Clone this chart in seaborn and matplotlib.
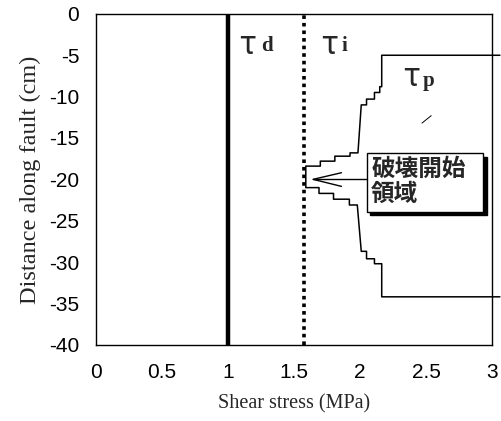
import matplotlib
matplotlib.use("Agg")
import matplotlib.pyplot as plt
from matplotlib import font_manager
from matplotlib.patches import Rectangle
import seaborn as sns
import pandas as pd

# Stress levels (MPa)
tau_d = 1.0          # dynamic friction level
tau_i = 1.58         # initial shear stress

# Peak-strength boundary: step profile along the fault
tau_p_x = [3.06, 2.165, 2.165, 2.15, 2.15, 2.11, 2.11, 2.05, 2.05, 2.01, 1.985,
           1.925, 1.925, 1.81, 1.81, 1.70, 1.70, 1.59, 1.59, 1.69, 1.69, 1.80,
           1.80, 1.92, 1.92, 1.98, 2.01, 2.05, 2.05, 2.11, 2.11, 2.165, 2.165, 3.06]
tau_p_y = [-5.0, -5.0, -8.8, -8.8, -9.5, -9.5, -10.3, -10.3, -11.0, -11.0, -16.8,
           -16.8, -17.2, -17.2, -17.8, -17.8, -18.4, -18.4, -21.0, -21.0, -21.7, -21.7,
           -22.4, -22.4, -23.1, -23.1, -28.7, -28.7, -29.6, -29.6, -30.2, -30.2, -34.2, -34.2]

x_ticks = [0, 0.5, 1, 1.5, 2, 2.5, 3]
x_tick_labels = ["0", "0.5", "1", "1.5", "2", "2.5", "3"]
y_ticks = [0, -5, -10, -15, -20, -25, -30, -35, -40]

sns.set_theme(style="white")
names = {f.name for f in font_manager.fontManager.ttflist}
tick_family = "Liberation Sans Narrow" if "Liberation Sans Narrow" in names else "Liberation Sans"
plt.rcParams["font.family"] = [tick_family, "DejaVu Sans"]
plt.rcParams["axes.unicode_minus"] = False

fig = plt.figure(figsize=(5.02, 4.21), dpi=100)
ax = fig.add_axes([0.191, 0.181, 0.789, 0.786])

# tau_d and tau_i levels
ax.axvline(tau_d, color="black", lw=3.2, zorder=3)
ax.axvline(tau_i, color="black", lw=2.6, ls=(0, (1, 1.1)), zorder=3)

# peak strength profile
prof = pd.DataFrame({"stress": tau_p_x, "dist": tau_p_y})
sns.lineplot(data=prof, x="stress", y="dist", sort=False, estimator=None,
             color="black", lw=1.1, ax=ax, clip_on=False, zorder=4)

# arrow pointing at the nucleation zone
ax.plot([1.645, 2.05], [-20.0, -20.0], color="black", lw=1.0, zorder=4)
ax.plot([1.86, 1.645, 1.86], [-19.2, -20.0, -20.85], color="black", lw=1.0, zorder=4)
ax.plot([2.47, 2.54], [-13.2, -12.3], color="black", lw=0.7, zorder=4)

# boxed label with drop shadow
bx0, bx1, by0, by1 = 2.05, 2.93, -23.9, -16.8
ax.add_patch(Rectangle((bx0 + 0.03, by0 - 0.45), bx1 - bx0, by1 - by0,
                       facecolor="black", edgecolor="black", zorder=5))
ax.add_patch(Rectangle((bx0, by0), bx1 - bx0, by1 - by0,
                       facecolor="white", edgecolor="black", lw=1.0, zorder=6))
ax.text(2.085, -20.3, "破壊開始\n領域", fontsize=17, fontweight="bold",
        family=["Noto Sans CJK JP", "DejaVu Sans"], va="center", ha="left",
        linespacing=1.05, zorder=7)

# stress-level labels
serif = ["Liberation Serif", "DejaVu Serif"]
for xt, yt, xs, ys, sub in [(1.15, -3.75, 1.295, -3.85, "d"),
                            (1.765, -3.75, 1.88, -3.85, "i"),
                            (2.39, -7.6, 2.52, -8.1, "p")]:
    ax.text(xt, yt, "τ", fontsize=23, family=["Noto Sans CJK JP", "DejaVu Sans"],
            ha="center", va="center")
    ax.text(xs, ys, sub, fontsize=15, fontweight="bold",
            family=serif, ha="center", va="center")

ax.set_xlim(0, 3)
ax.set_ylim(-40, 0)
ax.set_xticks(x_ticks)
ax.set_xticklabels(x_tick_labels)
ax.set_yticks(y_ticks)
ax.tick_params(direction="in", length=5, width=0.8, colors="black",
               labelsize=15)
ax.tick_params(axis="x", pad=13)
ax.tick_params(axis="y", pad=12)
for s in ax.spines.values():
    s.set_color("black")
    s.set_linewidth(1.0)

ax.set_xlabel("Shear stress (MPa)", fontsize=14.5, family=serif, labelpad=9)
ax.set_ylabel("Distance along fault (cm)", fontsize=17.5, family=serif, labelpad=6)

fig.savefig("out.png", dpi=100, facecolor="white")
